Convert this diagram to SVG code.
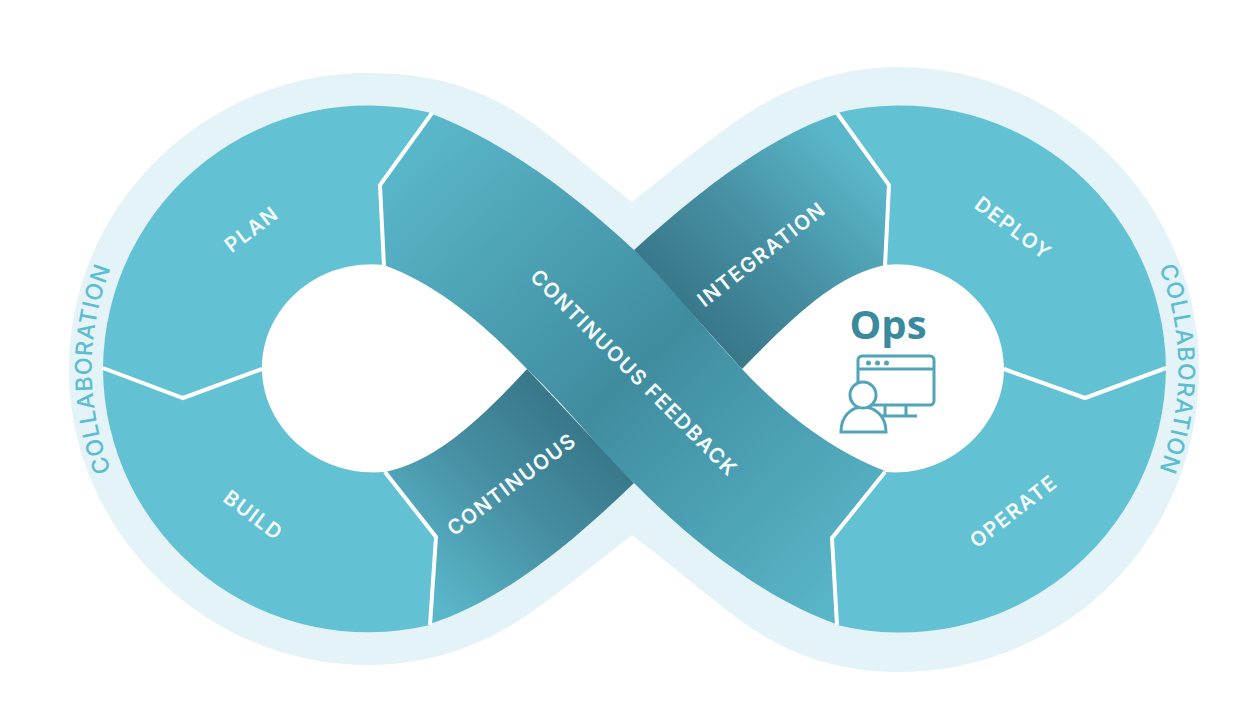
<svg xmlns="http://www.w3.org/2000/svg" width="1258" height="701" viewBox="0 0 1258 701">
<style>
.seg{fill:#62c1d2}
.div{fill:none;stroke:#fff;stroke-width:4;stroke-linejoin:miter}
.lbl{font-family:"Inter","Liberation Sans",sans-serif;font-weight:600;font-size:20.500px;letter-spacing:1.500px;fill:#f4fbfc;text-anchor:middle}
.col{font-family:"Inter","Liberation Sans",sans-serif;font-weight:500;font-size:23px;letter-spacing:1px;fill:#5cbdd0;text-anchor:middle}
.ico{fill:none;stroke:#52a5b8;stroke-width:3}
</style>
<defs>
<linearGradient id="gFeed" gradientUnits="userSpaceOnUse" x1="410" y1="140" x2="860" y2="600">
<stop offset="0" stop-color="#5ab7ca"/><stop offset="0.5" stop-color="#408c9f"/><stop offset="1" stop-color="#5ab7ca"/>
</linearGradient>
<linearGradient id="gInt" gradientUnits="userSpaceOnUse" x1="688" y1="310" x2="850" y2="150">
<stop offset="0" stop-color="#38788a"/><stop offset="0.45" stop-color="#478fa3"/><stop offset="1" stop-color="#5ab7ca"/>
</linearGradient>
<linearGradient id="gCon" gradientUnits="userSpaceOnUse" x1="580" y1="428" x2="420" y2="590">
<stop offset="0" stop-color="#38788a"/><stop offset="0.45" stop-color="#478fa3"/><stop offset="1" stop-color="#5ab7ca"/>
</linearGradient>
<path id="arcL" d="M115 480A276 276 0 0 1 115 258"/>
<path id="arcR" d="M1155 258A276 276 0 0 1 1155 480"/>
</defs>
<rect width="1258" height="701" fill="#fff"/>
<g id="halo">
<path fill="#e3f3f7" d="M368 73C440 73 490 92 535 125C570 150 600 178 632 202C665 176 695 150 735 122C780 90 835 67 897 67C1065 67 1199 205 1199 369C1199 540 1065 672 897 672C830 672 780 650 737 618C700 590 665 560 632 535C600 560 570 585 530 613C485 645 430 665 368 665C205 665 69 532 69 369C69 205 205 73 368 73Z"/>
</g>
<g id="holes" fill="#fff">
<path d="M384 265C315 258 262 310 262 368C262 425 315 478 385 472C435 462 480 420 527 369C490 330 440 285 384 265Z"/>
<path d="M885 265C950 258 1004 310 1004 368C1004 425 950 478 885 472C830 450 780 410 742 369C790 320 835 275 885 265Z"/>
</g>
<g id="plan">
<path class="seg" d="M103 368A265 265 0 0 1 431 113L380 185L384 265C315 258 262 310 262 368L183 398Z"/>
<text class="lbl" transform="translate(256 235) rotate(-37)">PLAN</text>
</g>
<g id="build">
<path class="seg" d="M103 369L183 398L262 369C262 425 315 478 385 472L436 537L430 625A265 265 0 0 1 103 369Z"/>
<text class="lbl" transform="translate(249 521) rotate(37)">BUILD</text>
</g>
<g id="deploy">
<path class="seg" d="M837 113A266 266 0 0 1 1166 367L1085 398L1004 368C1004 310 950 258 885 265L889 185Z"/>
<text class="lbl" transform="translate(1009 234) rotate(37)">DEPLOY</text>
</g>
<g id="operate">
<path class="seg" d="M1166 369L1085 398L1004 369C1004 425 950 478 885 472L832 538L837 625A266 266 0 0 0 1166 369Z"/>
<text class="lbl" transform="translate(1018 517) rotate(-38)">OPERATE</text>
</g>
<g id="integration">
<path fill="url(#gInt)" d="M837 114L889 185L885 265C835 275 790 320 742 369L634 250C690 200 760 140 837 114Z"/>
<text class="lbl" transform="translate(766 260) rotate(-38)">INTEGRATION</text>
</g>
<g id="continuous">
<path fill="url(#gCon)" d="M385 472C435 462 480 420 527 369L634 483C575 540 505 600 430 624L436 537Z"/>
<text class="lbl" transform="translate(516 490) rotate(-37)">CONTINUOUS</text>
</g>
<g id="feedback">
<path fill="url(#gFeed)" d="M432 114C500 140 570 190 634 250C670 285 700 325 742 369C780 410 830 450 885 471L832 538L836 624C770 600 700 550 634 483C600 450 570 410 527 369C490 330 440 285 384 265L379 185Z"/>
<text class="lbl" transform="translate(629 378) rotate(45)">CONTINUOUS FEEDBACK</text>
</g>
<g id="dividers">
<path class="div" d="M432 113L380 185L384 266"/>
<path class="div" d="M103 368L183 398L262 369"/>
<path class="div" d="M385 472L436 537L430 625"/>
<path class="div" d="M837 113L889 185L885 266"/>
<path class="div" d="M1166 368L1085 398L1004 369"/>
<path class="div" d="M885 472L832 538L837 625"/>
</g>
<g id="collab-left"><text class="col"><textPath href="#arcL" startOffset="50%">COLLABORATION</textPath></text></g>
<g id="collab-right"><text class="col"><textPath href="#arcR" startOffset="50%">COLLABORATION</textPath></text></g>
<g id="ops">
<text x="888" y="339" text-anchor="middle" font-family="'Open Sans','Liberation Sans',sans-serif" font-weight="700" font-size="40" fill="#3a8a9e">Ops</text>
<rect class="ico" x="858" y="356" width="76" height="49" rx="4"/>
<path class="ico" d="M858 369H934M885 405V416M906 405V416M880 416H917"/>
<g fill="#52a5b8"><circle cx="868.500" cy="363" r="2.500"/><circle cx="877.500" cy="363" r="2.500"/><circle cx="886.500" cy="363" r="2.500"/></g>
<path d="M841 432C841 416 851 407 863 407C875 407 886 416 886 432Z" fill="#fff" stroke="#52a5b8" stroke-width="3"/>
<circle cx="863" cy="395" r="13" fill="#fff" stroke="#52a5b8" stroke-width="3"/>
</g>
</svg>
